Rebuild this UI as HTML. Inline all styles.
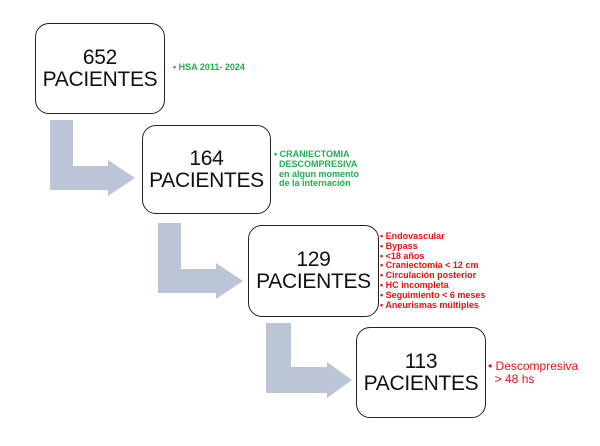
<!DOCTYPE html>
<html><head><style>
body{margin:0;width:600px;height:446px;background:#fff;position:relative;overflow:hidden;font-family:"Liberation Sans",sans-serif}
.b{position:absolute;width:127px;height:88px;border:1.5px solid #222;border-radius:14px;box-sizing:border-box;text-align:center;font-size:21px;line-height:22px;color:#111;display:flex;flex-direction:column;justify-content:center;letter-spacing:-0.3px}
.t{position:absolute;font-size:9px;line-height:9.8px;font-weight:bold}
</style></head><body>
<svg width="600" height="446" style="position:absolute;left:0;top:0">
<g fill="#bcc5d5">
<polygon points="50,120 73,120 73,166 108,166 108,160 135,178 108,196 108,190 50,190"/>
<polygon points="158,223 181,223 181,269 216,269 216,263 243,281 216,299 216,293 158,293"/>
<polygon points="266,323 291,323 291,367 327,367 327,362 352,380 327,398 327,393 266,393"/>
</g>
</svg>
<div class="b" style="left:35px;top:23px;height:91px;width:130px">652<br>PACIENTES</div>
<div class="b" style="left:142px;top:125px;height:89px;width:129px">164<br>PACIENTES</div>
<div class="b" style="left:248px;top:225px;height:92px;width:131px">129<br>PACIENTES</div>
<div class="b" style="left:356px;top:327px;height:91px;width:130px">113<br>PACIENTES</div>
<div class="t" style="left:173px;top:63px;color:#1fb04a">• HSA 2011- 2024</div>
<div class="t" style="left:274px;top:150px;color:#1fb04a">• CRANIECTOMIA<br>&nbsp;&nbsp;DESCOMPRESIVA<br>&nbsp;&nbsp;en algun momento<br>&nbsp;&nbsp;de la internación</div>
<div class="t" style="left:380px;top:232px;color:#f01010">• Endovascular<br>• Bypass<br>• &lt;18 años<br>• Craniectomia &lt; 12 cm<br>• Circulación posterior<br>• HC incompleta<br>• Seguimiento &lt; 6 meses<br>• Aneurismas múltiples</div>
<div class="t" style="left:488px;top:360px;color:#f01010;font-size:12px;line-height:13px;font-weight:normal">• Descompresiva<br>&nbsp;&nbsp;&gt; 48 hs</div>
</body></html>
